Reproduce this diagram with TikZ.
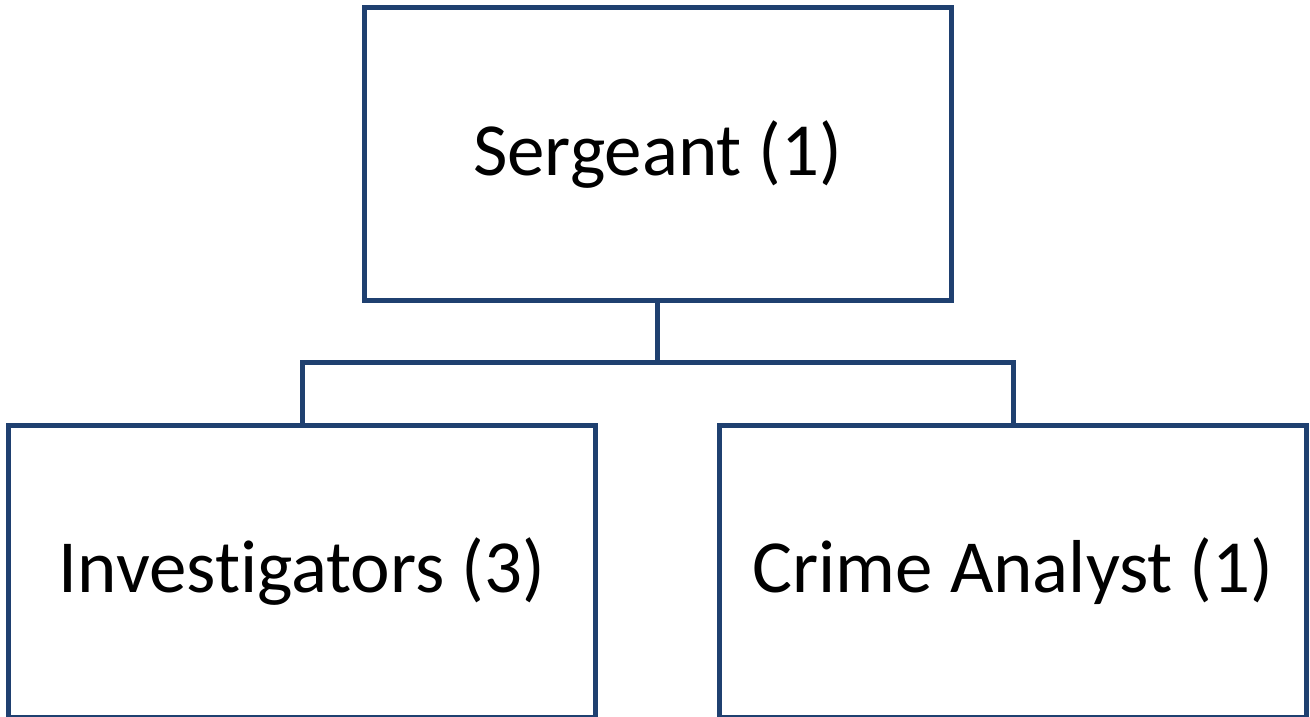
\documentclass[tikz,border=0pt]{standalone}
\usepackage{fontspec}
\setmainfont[Ligatures=NoCommon]{Carlito}
\usepackage{tikz}
\usetikzlibrary{positioning}
\definecolor{chartblue}{RGB}{31,64,112}

\begin{document}
\begin{tikzpicture}[node distance=119.5pt]
\tikzstyle{post} = [rectangle, minimum width=587pt, minimum height=292.5pt, text centered, draw=chartblue, line width=5pt, font=\fontsize{75}{82}\selectfont]
\tikzstyle{link} = [draw=chartblue, line width=5pt]

\useasboundingbox (0,0) rectangle (1310pt,-717pt);

\node (serg) [post] at (657.75pt,-154.25pt) {Sergeant (1)};
\node (inv) [post, below=of serg, xshift=-355.75pt] {Investigators (3)};
\node (crime) [post, below=of serg, xshift=355.25pt] {Crime Analyst (1)};

\draw [link] (serg.south) -- ++(0,-59.5pt) coordinate (bar) -| (inv.north);
\draw [link] (bar) -| (crime.north);

\end{tikzpicture}
\end{document}
